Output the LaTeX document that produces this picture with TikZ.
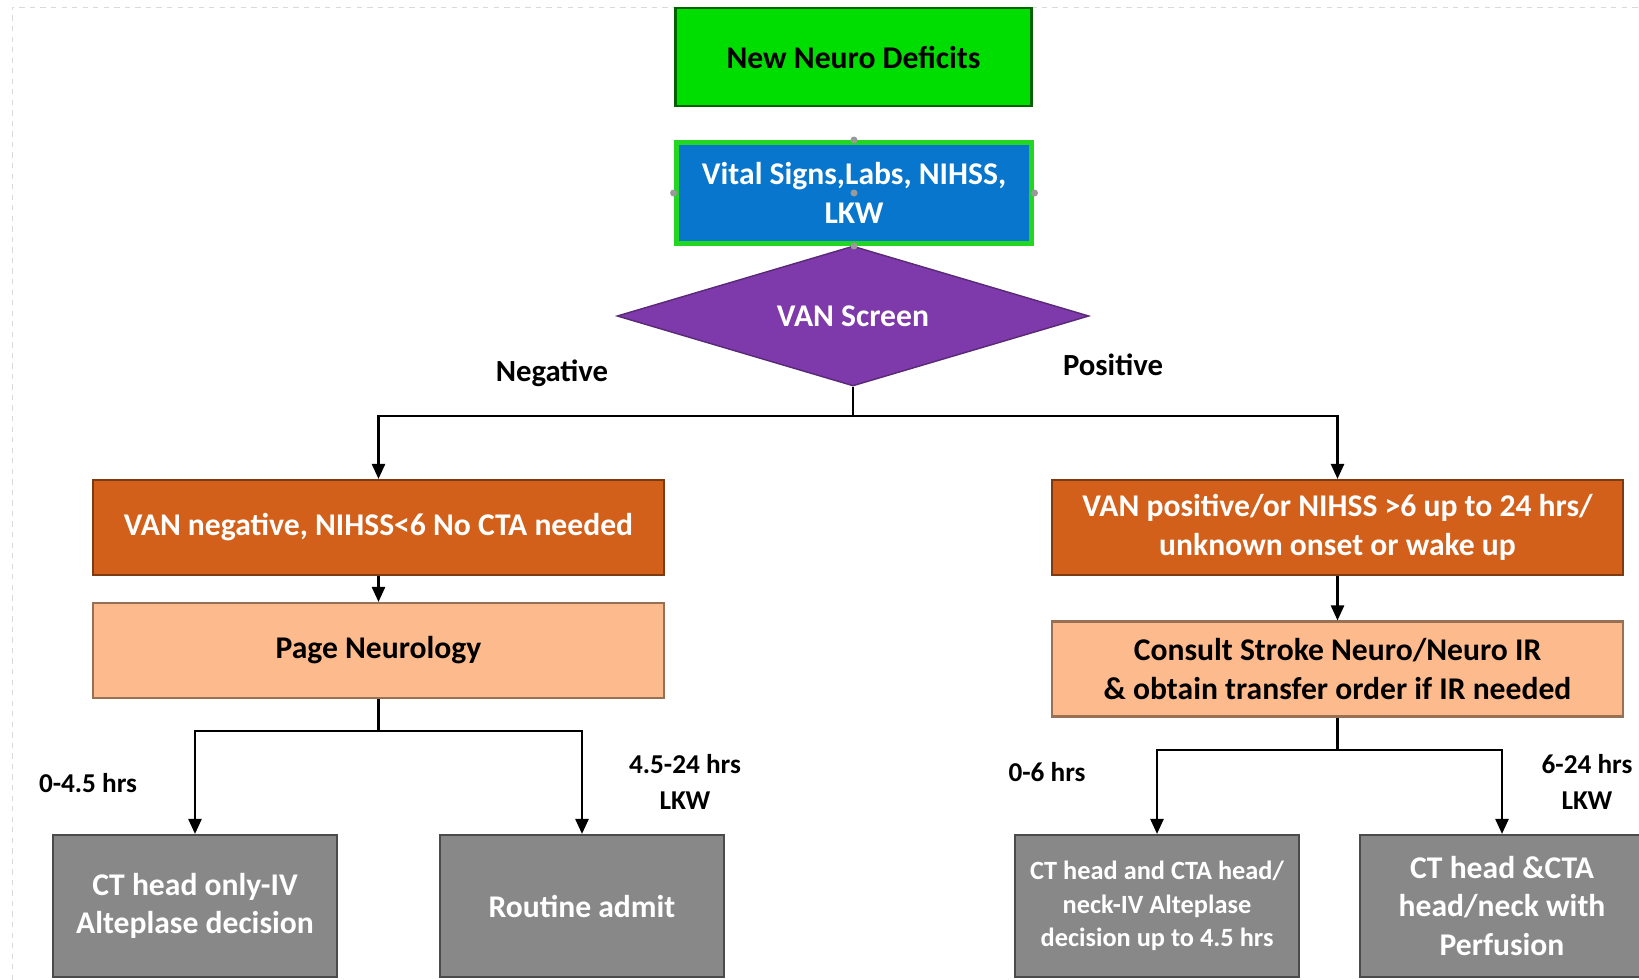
\documentclass[tikz,border=0pt]{standalone}
\usepackage{fontspec}
\setmainfont{Carlito}
\usetikzlibrary{shapes.geometric,arrows.meta}

\definecolor{neurogreen}{RGB}{0,221,0}
\definecolor{vitalblue}{RGB}{8,118,205}
\definecolor{rimgreen}{RGB}{34,214,34}
\definecolor{vanpurple}{RGB}{126,58,170}
\definecolor{deeporange}{RGB}{210,96,26}
\definecolor{peach}{RGB}{253,186,140}
\definecolor{slate}{RGB}{136,136,136}

\begin{document}
\begin{tikzpicture}[x=0.02cm,y=-0.02cm,
    box/.style={rectangle,inner sep=2pt,align=center,
      font=\fontsize{18}{22}\selectfont\bfseries},
    greenbox/.style={box,fill=neurogreen,draw=neurogreen!45!black,line width=1.5pt,
      minimum width=7.12cm,minimum height=1.96cm},
    bluebox/.style={box,text=white,fill=vitalblue,draw=rimgreen,line width=0.1cm,
      minimum width=7.12cm,minimum height=2.02cm},
    decision/.style={diamond,aspect=3.37,inner sep=0pt,text=white,fill=vanpurple,
      draw=vanpurple!70!black,line width=0.8pt,minimum width=9.44cm,minimum height=2.8cm,
      font=\fontsize{18}{22}\selectfont\bfseries},
    orangebox/.style={box,text=white,fill=deeporange,draw=deeporange!60!black,line width=1.2pt,
      minimum width=11.42cm,minimum height=1.9cm},
    peachbox/.style={box,fill=peach,draw=peach!60!black,line width=1.2pt,
      minimum width=11.42cm,minimum height=1.9cm},
    graybox/.style={box,text=white,fill=slate,draw=slate!55!black,line width=1.2pt,
      minimum width=5.68cm,minimum height=2.84cm},
    conn/.style={line width=1.4pt,-{Triangle[length=0.3cm,width=0.26cm]}},
    plain/.style={line width=1.4pt},
    lbl/.style={align=center,font=\fontsize{17.5}{21}\selectfont\bfseries},
    timelbl/.style={align=center,font=\fontsize{15.5}{20}\selectfont\bfseries},
    handle/.style={fill=gray!80}
  ]
  \clip (0,0) rectangle (1639,980);
  \fill[white] (0,0) rectangle (1639,980);
  \draw[gray!30,dashed] (12,980) -- (12,7) -- (1639,7);

  % top of the chart
  \node[greenbox] (deficits) at (853.5,57) {New Neuro Deficits};
  \node[decision] (vanscreen) at (853,316) {VAN Screen};
  \node[bluebox] (vitals) at (854,193) {Vital Signs,Labs, NIHSS,\\LKW};
  \foreach \a in {north,south,east,west,center}
    \fill[handle] (vitals.\a) circle (3.5);

  % two branches
  \node[orangebox] (vanneg) at (378.5,527.5) {VAN negative, NIHSS<6 No CTA needed};
  \node[peachbox] (neuropage) at (378.5,650.5) {Page Neurology};
  \node[orangebox] (vanpos) at (1337.5,527.5)
    {VAN positive/or NIHSS >6 up to 24 hrs/\\unknown onset or wake up};
  \node[peachbox] (consult) at (1337.5,669)
    {Consult Stroke Neuro/Neuro IR\\\& obtain transfer order if IR needed};

  % imaging boxes
  \node[graybox] (cthead) at (195,906) {CT head only-IV\\Alteplase decision};
  \node[graybox] (routine) at (582,906) {Routine admit};
  \node[graybox,font=\fontsize{15}{19}\selectfont\bfseries] (ctcta) at (1157,906)
    {CT head and CTA head/\\neck-IV Alteplase\\decision up to 4.5 hrs};
  \node[graybox] (perfusion) at (1502,906) {CT head \&CTA\\head/neck with\\Perfusion};

  % labels
  \node[lbl] (neglbl) at (552,373) {Negative};
  \node[lbl] (poslbl) at (1113,365) {Positive};
  \node[timelbl] (early) at (88,783) {0-4.5 hrs};
  \node[timelbl] (late) at (685,782) {4.5-24 hrs\\LKW};
  \node[timelbl] (earlypos) at (1047,772) {0-6 hrs};
  \node[timelbl] (latepos) at (1587,782) {6-24 hrs\\LKW};

  % connectors
  \coordinate (split) at (853,416);
  \coordinate (negsplit) at (378.5,731);
  \coordinate (possplit) at (1337.5,750);
  \draw[plain] (vanscreen.south) -- (split);
  \draw[conn] (split) -| (vanneg.north);
  \draw[conn] (split) -| (vanpos.north);
  \draw[conn] (vanneg.south) -- (neuropage.north);
  \draw[conn] (vanpos.south) -- (consult.north);
  \draw[plain] (neuropage.south) -- (negsplit);
  \draw[conn] (negsplit) -| (cthead.north);
  \draw[conn] (negsplit) -| (routine.north);
  \draw[plain] (consult.south) -- (possplit);
  \draw[conn] (possplit) -| (ctcta.north);
  \draw[conn] (possplit) -| (perfusion.north);
\end{tikzpicture}
\end{document}
